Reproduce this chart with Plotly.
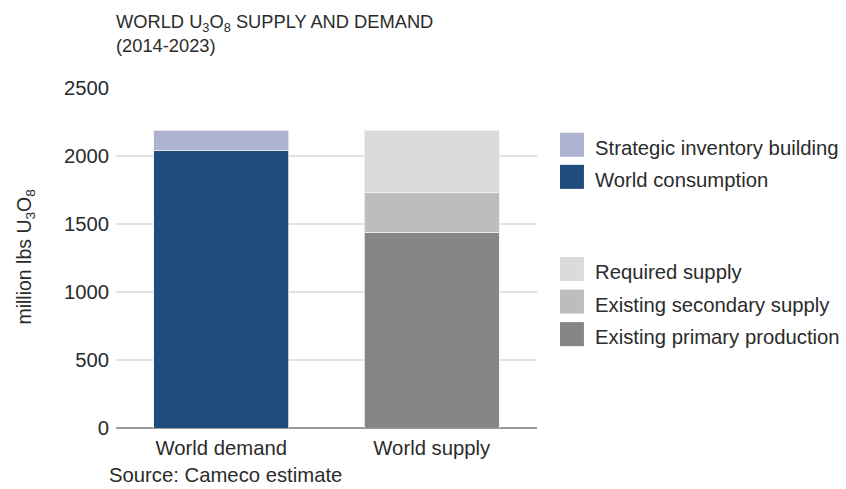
import plotly.graph_objects as go

# Categories and stacked series (million lbs U3O8, cumulative 2014-2023)
categories = ["World demand", "World supply"]

demand_series = ["World consumption", "Strategic inventory building"]
demand_values = [2040, 150]
demand_colors = ["#1f4c7c", "#aeb3d2"]

supply_series = ["Existing primary production", "Existing secondary supply", "Required supply"]
supply_values = [1440, 295, 455]
supply_colors = ["#858685", "#bdbdbd", "#dbdbdb"]

y_ticks = [0, 500, 1000, 1500, 2000, 2500]

FONT = "Liberation Sans, Arial, Helvetica, sans-serif"
TEXT = "#2b2b2b"
BODY = 20.3

W, H = 846, 489
M_L, M_R, M_T, M_B = 115.5, 309, 88.3, 61.3
PLOT_W = W - M_L - M_R
PLOT_H = H - M_T - M_B


def px_x(x):
    return (x - M_L) / PLOT_W


def px_y(y):
    return (H - M_B - y) / PLOT_H


fig = go.Figure()

for name, val, col in zip(demand_series, demand_values, demand_colors):
    fig.add_trace(go.Bar(
        x=[categories[0]], y=[val], name=name,
        marker=dict(color=col, line=dict(color="rgba(240,240,240,0.8)", width=1)),
        showlegend=False, hoverinfo="name+y",
    ))
for name, val, col in zip(supply_series, supply_values, supply_colors):
    fig.add_trace(go.Bar(
        x=[categories[1]], y=[val], name=name,
        marker=dict(color=col, line=dict(color="rgba(240,240,240,0.8)", width=1)),
        showlegend=False, hoverinfo="name+y",
    ))

# Custom legend: large square swatches with labels, in two groups
legend_rows = [
    (demand_series[1], demand_colors[1], 145),
    (demand_series[0], demand_colors[0], 177),
    (supply_series[2], supply_colors[2], 269),
    (supply_series[1], supply_colors[1], 301.5),
    (supply_series[0], supply_colors[0], 334),
]
shapes = []
annotations = []
for label, col, yc in legend_rows:
    shapes.append(dict(
        type="rect", xref="paper", yref="paper",
        x0=px_x(560), x1=px_x(584), y0=px_y(yc + 12), y1=px_y(yc - 12),
        fillcolor=col, line=dict(width=0),
    ))
    annotations.append(dict(
        text=label, xref="paper", yref="paper", x=px_x(593), y=px_y(yc + 3),
        xanchor="left", yanchor="middle", showarrow=False,
        font=dict(family=FONT, size=BODY, color=TEXT),
    ))

annotations.append(dict(
    text="WORLD U<sub>3</sub>O<sub>8</sub> SUPPLY AND DEMAND<br>(2014-2023)",
    xref="paper", yref="paper", x=px_x(113), y=px_y(9),
    xanchor="left", yanchor="top", align="left", showarrow=False,
    font=dict(family=FONT, size=18.3, color=TEXT),
))
annotations.append(dict(
    text="million lbs U<sub>3</sub>O<sub>8</sub>",
    xref="paper", yref="paper", x=px_x(25), y=px_y(257),
    xanchor="center", yanchor="middle", textangle=-90, showarrow=False,
    font=dict(family=FONT, size=19.5, color=TEXT),
))
annotations.append(dict(
    text="Source: Cameco estimate",
    xref="paper", yref="paper", x=px_x(106), y=px_y(488),
    xanchor="left", yanchor="bottom", showarrow=False,
    font=dict(family=FONT, size=BODY, color=TEXT),
))

fig.update_layout(
    width=W, height=H,
    margin=dict(l=M_L, r=M_R, t=M_T, b=M_B, pad=0),
    paper_bgcolor="white", plot_bgcolor="white",
    barmode="stack", bargap=0.36,
    font=dict(family=FONT, size=BODY, color=TEXT),
    shapes=shapes, annotations=annotations,
    showlegend=False,
)
fig.update_xaxes(
    showgrid=False, showline=False, ticks="", ticklabelstandoff=6,
    tickfont=dict(family=FONT, size=BODY, color=TEXT),
    categoryorder="array", categoryarray=categories,
)
fig.update_yaxes(
    range=[0, 2500], tickvals=y_ticks, ticktext=[str(v) for v in y_ticks],
    showgrid=True, gridcolor="#e2e2e2", gridwidth=1.5,
    zeroline=True, zerolinecolor="#9a9a9a", zerolinewidth=1.5,
    ticks="", ticklabelstandoff=6,
    tickfont=dict(family=FONT, size=BODY, color=TEXT),
)

fig.write_html("out.html")
